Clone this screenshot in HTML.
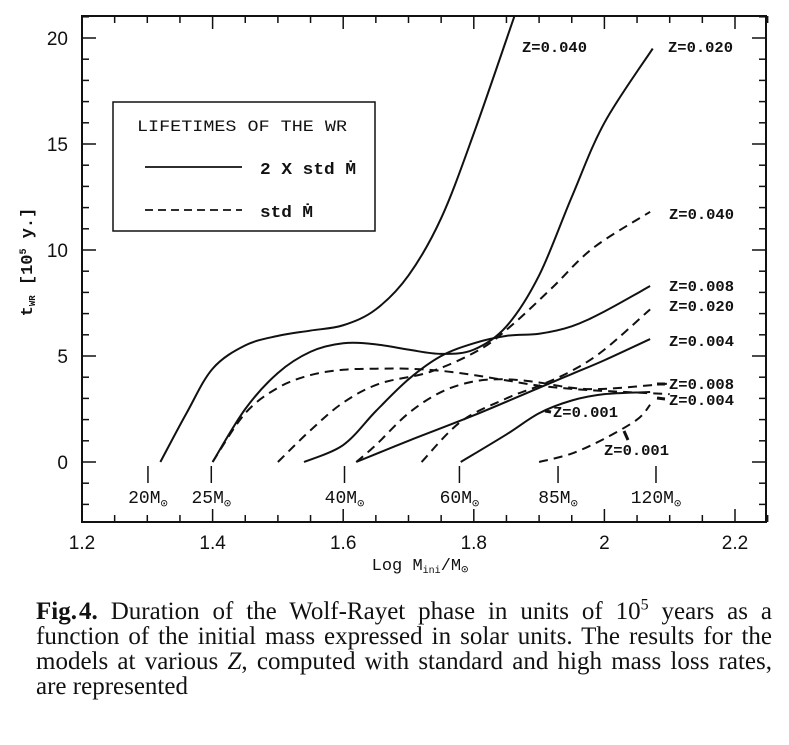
<!DOCTYPE html>
<html><head><meta charset="utf-8">
<style>
html,body{margin:0;padding:0;background:#fff;}
body{width:789px;height:745px;position:relative;overflow:hidden;}
.cap{position:absolute;left:36px;top:599px;width:736px;font-family:"Liberation Serif",serif;font-size:25px;line-height:25px;color:#111;}
.cap div{text-align:justify;text-align-last:justify;white-space:nowrap;}
.cap div.last{text-align-last:left;}
</style></head>
<body>
<svg id="chart" width="789" height="590" style="position:absolute;left:0;top:0" xmlns="http://www.w3.org/2000/svg"></svg>
<div class="cap">
<div><b>Fig.&#8202;4.</b> Duration of the Wolf-Rayet phase in units of 10<sup style="font-size:16px;line-height:0">5</sup> years as a</div>
<div>function of the initial mass expressed in solar units. The results for the</div>
<div>models at various <i>Z</i>, computed with standard and high mass loss rates,</div>
<div class="last">are represented</div>
</div>
<script>
const xTicks=[1.2,1.4,1.6,1.8,2,2.2];
const xTickLabels=["1.2","1.4","1.6","1.8","2","2.2"];
const yTicks=[0,5,10,15,20];
const yTickLabels=["0","5","10","15","20"];
const massLogs=[1.301,1.398,1.602,1.778,1.929,2.079];
const massLabels=["20","25","40","60","85","120"];
// solid (2 x std Mdot)
const s040x=[1.32,1.36,1.40,1.45,1.5,1.55,1.6,1.65,1.7,1.75,1.8,1.863];
const s040y=[0,2.3,4.4,5.5,5.95,6.2,6.45,7.2,8.8,11.5,15.5,21.1];
const s020x=[1.40,1.45,1.5,1.55,1.6,1.65,1.7,1.75,1.8,1.85,1.9,1.95,2.0,2.074];
const s020y=[0,2.5,4.2,5.2,5.6,5.55,5.3,5.1,5.3,6.4,8.8,12.5,16.0,19.5];
const s008x=[1.54,1.6,1.65,1.7,1.75,1.8,1.85,1.9,1.95,2.0,2.07];
const s008y=[0,0.8,2.4,3.9,5.0,5.6,5.95,6.05,6.4,7.1,8.3];
const s004x=[1.62,1.7,1.8,1.9,1.95,2.0,2.07];
const s004y=[0,1.0,2.2,3.5,4.15,4.8,5.8];
const s001x=[1.78,1.85,1.9,1.95,2.0,2.07];
const s001y=[0,1.3,2.3,2.9,3.2,3.3];
// dashed (std Mdot)
const d1x=[1.40,1.45,1.5,1.55,1.6,1.65,1.7,1.75,1.8,1.85,1.9,1.95,2.0,2.1];
const d1y=[0,2.3,3.5,4.1,4.35,4.4,4.4,4.3,4.1,3.85,3.6,3.45,3.35,3.2];
const d2x=[1.5,1.55,1.6,1.656,1.733,1.809,1.86,1.921,1.983,2.07];
const d2y=[0,1.5,2.8,3.7,4.25,5.3,6.5,8.25,10.1,11.8];
const d3x=[1.62,1.65,1.7,1.75,1.8,1.85,1.9,1.95,2.0,2.1];
const d3y=[0,0.8,2.3,3.3,3.8,3.9,3.75,3.5,3.45,3.7];
const d4x=[1.72,1.78,1.85,1.9,1.95,2.0,2.07];
const d4y=[0,1.9,3.0,3.6,4.3,5.3,7.2];
const d5x=[1.9,1.95,2.0,2.05,2.07];
const d5y=[0,0.4,1.1,2.0,2.7];

const L=82,R=766,T=16,B=522;
const X=v=>82+(v-1.2)*653;
const Y=v=>462-v*21.2;
const NS="http://www.w3.org/2000/svg";
const svg=document.getElementById('chart');
function mk(tag,attrs,parent){const e=document.createElementNS(NS,tag);for(const k in attrs)e.setAttribute(k,attrs[k]);(parent||svg).appendChild(e);return e;}
function txt(x,y,s,size,fam,anchor,weight){const t=mk('text',{x:x,y:y,'font-size':size,'font-family':fam,'text-anchor':anchor||'start','font-weight':weight||'normal',fill:'#111'});t.textContent=s;return t;}

const frame=mk('rect',{x:L,y:T,width:R-L,height:B-T,fill:'none',stroke:'#111','stroke-width':2});



for(let v=1.2;v<=2.2501;v+=0.05){
  const major=Math.abs(v*10-Math.round(v*10))<1e-6 && Math.round(v*10)%2===0;
  const len=major?13:7;const x=X(v);
  mk('line',{x1:x,y1:B,x2:x,y2:B-len,stroke:'#111','stroke-width':1.5});
  mk('line',{x1:x,y1:T,x2:x,y2:T+len,stroke:'#111','stroke-width':1.5});
}
xTicks.forEach((v,i)=>{const t=txt(X(v),549,xTickLabels[i],19,'"Liberation Sans",sans-serif','middle');

});
for(let v=-2;v<=21;v+=1){
  const major=v%5===0;const len=major?14:7;const y=Y(v);
  if(y<T||y>B)continue;
  mk('line',{x1:L,y1:y,x2:L+len,y2:y,stroke:'#111','stroke-width':1.5});
  mk('line',{x1:R,y1:y,x2:R-len,y2:y,stroke:'#111','stroke-width':1.5});
}
yTicks.forEach((v,i)=>{const t=txt(68,Y(v)+7,yTickLabels[i],19,'"Liberation Sans",sans-serif','end');

});

const xt=mk('text',{x:420,y:570,'font-size':17,'font-family':'"Liberation Mono",monospace','text-anchor':'middle',fill:'#111'});
xt.innerHTML='Log M<tspan font-size="10" dy="3">ini</tspan><tspan dy="-3">/M</tspan><tspan font-size="12" dy="3">⊙</tspan>';


const yt=mk('text',{x:0,y:0,'font-size':17,'font-family':'"Liberation Mono",monospace','text-anchor':'middle',fill:'#111','font-weight':'bold',transform:'translate(32,262) rotate(-90)'});
yt.innerHTML='t<tspan font-size="9" dy="3">WR</tspan><tspan dy="-3"> [10</tspan><tspan font-size="10" dy="-6">5</tspan><tspan dy="6"> y.]</tspan>';



massLogs.forEach((m,i)=>{
  const x=X(m);
  mk('line',{x1:x,y1:466,x2:x,y2:483,stroke:'#111','stroke-width':1.5});
  const t=mk('text',{x:x,y:503,'font-size':18,'font-family':'"Liberation Mono",monospace','text-anchor':'middle',fill:'#111'});
  t.innerHTML=massLabels[i]+'M<tspan font-size="12" dy="4">⊙</tspan>';
  
  
});

function path(xs,ys){
  const p=xs.map((v,i)=>[X(v),Y(ys[i])]);
  let d='M'+p[0][0]+','+p[0][1];
  for(let i=0;i<p.length-1;i++){
    const p0=p[i-1]||p[i],p1=p[i],p2=p[i+1],p3=p[i+2]||p[i+1];
    const c1=[p1[0]+(p2[0]-p0[0])/6,p1[1]+(p2[1]-p0[1])/6];
    const c2=[p2[0]-(p3[0]-p1[0])/6,p2[1]-(p3[1]-p1[1])/6];
    d+=` C${c1[0]},${c1[1]} ${c2[0]},${c2[1]} ${p2[0]},${p2[1]}`;
  }
  return d;
}
const clip=mk('clipPath',{id:'cp'});mk('rect',{x:L,y:T,width:R-L,height:B-T},clip);
const series=[[s040x,s040y,0,'solid-z0040'],[s020x,s020y,0,'solid-z0020'],[s008x,s008y,0,'solid-z0008'],[s004x,s004y,0,'solid-z0004'],[s001x,s001y,0,'solid-z0001'],
[d1x,d1y,1,'dashed-z0004'],[d2x,d2y,1,'dashed-z0040'],[d3x,d3y,1,'dashed-z0008'],[d4x,d4y,1,'dashed-z0020'],[d5x,d5y,1,'dashed-z0001']];
series.forEach(s=>{
  const a={d:path(s[0],s[1]),fill:'none',stroke:'#111','stroke-width':2,'clip-path':'url(#cp)'};
  if(s[2])a['stroke-dasharray']='9,6';
  const e=mk('path',a);
  
  
});

const labs=[[522,52,'Z=0.040'],[668,52,'Z=0.020'],[669,219,'Z=0.040'],[669,291,'Z=0.008'],[669,311,'Z=0.020'],[669,346,'Z=0.004'],[669,389,'Z=0.008'],[669,405,'Z=0.004'],[553,417,'Z=0.001'],[604,455,'Z=0.001']];
labs.forEach(l=>{const t=mk('text',{x:l[0],y:l[1],'font-size':15,'font-family':'"Liberation Mono",monospace',fill:'#111','font-weight':'bold',textLength:65,lengthAdjust:'spacingAndGlyphs'});
t.textContent=l[2];

});
[[665,384,657,384],[665,399,657,398],[551,412,545,411],[628,440,624,431]].forEach(a=>{
  mk('line',{x1:a[0],y1:a[1],x2:a[2],y2:a[3],stroke:'#111','stroke-width':3});
});

const lg=mk('g',{});


mk('rect',{x:113,y:102,width:262,height:129,fill:'#fff',stroke:'#111','stroke-width':1.5},lg);
const lt=mk('text',{x:137,y:131,'font-size':16,'font-family':'"Liberation Mono",monospace',fill:'#111',textLength:210,lengthAdjust:'spacingAndGlyphs'},lg);lt.textContent='LIFETIMES OF THE WR';
mk('line',{x1:145,y1:167,x2:242,y2:167,stroke:'#111','stroke-width':1.8},lg);
const l1=mk('text',{x:260,y:174,'font-size':17,'font-family':'"Liberation Mono",monospace',fill:'#111','font-weight':'bold',textLength:96,lengthAdjust:'spacingAndGlyphs'},lg);l1.textContent='2 X std Ṁ';
mk('line',{x1:145,y1:210,x2:242,y2:210,stroke:'#111','stroke-width':1.8,'stroke-dasharray':'8,5'},lg);
const l2=mk('text',{x:260,y:217,'font-size':17,'font-family':'"Liberation Mono",monospace',fill:'#111','font-weight':'bold',textLength:53,lengthAdjust:'spacingAndGlyphs'},lg);l2.textContent='std Ṁ';
</script>
</body></html>
